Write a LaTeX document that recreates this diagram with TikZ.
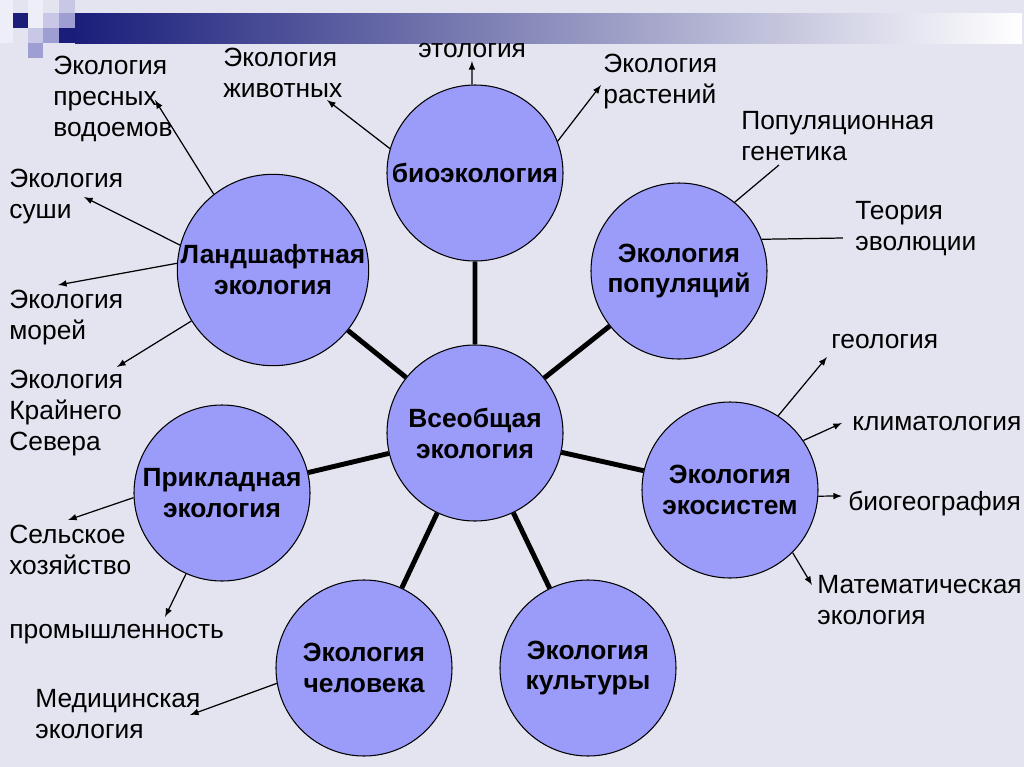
\documentclass[tikz,border=0pt]{standalone}
\usepackage{fontspec}
\setmainfont{Liberation Sans}
\usepackage{tikz}

\definecolor{fon}{RGB}{228,228,240}
\definecolor{krug}{RGB}{155,155,250}
\definecolor{sinij}{RGB}{26,30,122}
\definecolor{seryj}{RGB}{160,162,190}
\definecolor{kv1}{RGB}{238,238,248}
\definecolor{kv2}{RGB}{200,200,230}
\definecolor{kv3}{RGB}{158,158,210}

\begin{document}
\begin{tikzpicture}[scale=0.2]
\tikzstyle{every node}+=[inner sep=0pt]
\tikzstyle{krugi}=[circle, draw=black, line width=0.6pt, fill=krug, minimum size=3.52cm, align=center, font=\fontsize{15}{17.6}\selectfont\bfseries]
\tikzstyle{podpis}=[anchor=base west, align=left, font=\fontsize{15}{17.6}\selectfont]
\tikzstyle{luch}=[line width=2.8pt]
\tikzstyle{strelka}=[line width=0.7pt, -latex]
\tikzstyle{liniya}=[line width=0.7pt]
\useasboundingbox (0,0) rectangle (102.4,-76.7);
\fill [fon] (0,0) rectangle (102.4,-76.7);
\fill [kv1] (0,0) rectangle (1.3,-4.3);
\fill [sinij] (1.3,-1.3) rectangle (2.8,-2.8);
\fill [kv1] (2.8,0) rectangle (4.3,-2.8);
\fill [kv2] (2.8,-2.8) rectangle (4.3,-4.3);
\fill [kv3] (2.8,-4.3) rectangle (4.3,-5.8);
\fill [kv2] (4.3,-1.3) rectangle (5.9,-2.8);
\fill [kv3] (4.3,-2.8) rectangle (5.9,-4.3);
\fill [kv2] (5.9,0) rectangle (7.5,-1.3);
\fill [kv3] (5.9,-1.3) rectangle (7.5,-2.8);
\fill [sinij] (5.9,-2.8) rectangle (7.5,-4.3);
\shade [left color=sinij, middle color=seryj, right color=white] (7.5,-1.3) rectangle (102.2,-4.3);
\node [krugi] (all) at (47.5,-43.3) {Всеобщая\\экология};
\node [krugi] (bio) at (47.5,-17.3) {биоэкология};
\node [krugi] (popul) at (67.9,-27.1) {Экология\\популяций};
\node [krugi] (ecosys) at (73.0,-49.0) {Экология\\экосистем};
\node [krugi] (cult) at (58.8,-66.8) {Экология\\культуры};
\node [krugi] (human) at (36.4,-66.8) {Экология\\человека};
\node [krugi] (applied) at (22.2,-49.3) {Прикладная\\экология};
\node [krugi] (land) at (27.3,-27.0) {Ландшафтная\\экология};
\draw [luch] (all) -- (bio);
\draw [luch] (all) -- (popul);
\draw [luch] (all) -- (ecosys);
\draw [luch] (all) -- (cult);
\draw [luch] (all) -- (human);
\draw [luch] (all) -- (applied);
\draw [luch] (all) -- (land);
\node [podpis] (presn) at (5.3,-13.6) {Экология\\пресных\\водоемов};
\node [podpis] (zhiv) at (22.3,-9.7) {Экология\\животных};
\node [podpis] (etol) at (41.8,-5.7) {этология};
\node [podpis] (rast) at (60.3,-10.3) {Экология\\растений};
\node [podpis] (gen) at (74.1,-16.0) {Популяционная\\генетика};
\node [podpis] (evol) at (85.5,-25.0) {Теория\\эволюции};
\node [podpis] (geol) at (83.1,-34.8) {геология};
\node [podpis] (klim) at (85.2,-43.0) {климатология};
\node [podpis] (biogeo) at (84.8,-51.0) {биогеография};
\node [podpis] (mat) at (81.7,-62.4) {Математическая\\экология};
\node [podpis] (sushi) at (0.9,-21.8) {Экология\\суши};
\node [podpis] (morei) at (0.9,-33.9) {Экология\\морей};
\node [podpis] (sever) at (0.9,-45.0) {Экология\\Крайнего\\Севера};
\node [podpis] (selsk) at (0.9,-57.4) {Сельское\\хозяйство};
\node [podpis] (prom) at (0.9,-63.8) {промышленность};
\node [podpis] (med) at (3.5,-73.8) {Медицинская\\экология};
\coordinate (tpresn) at (15.5,-10.0);
\coordinate (tsushi) at (8.4,-19.7);
\coordinate (tmorei) at (5.8,-28.5);
\coordinate (tsever) at (11.7,-36.7);
\coordinate (tzhiv) at (32.7,-10.0);
\coordinate (tetol) at (47.2,-6.1);
\coordinate (trast) at (60.1,-8.5);
\coordinate (tgen) at (77.9,-16.5);
\coordinate (tevol) at (84.3,-23.8);
\coordinate (tgeol) at (82.7,-35.7);
\coordinate (tklim) at (84.2,-42.3);
\coordinate (tbiogeo) at (84.2,-49.6);
\coordinate (tmat) at (81.2,-58.5);
\coordinate (tselsk) at (6.8,-52.0);
\coordinate (tprom) at (16.5,-61.7);
\coordinate (tmed) at (19.0,-71.5);
\draw [strelka] (land.128) -- (tpresn);
\draw [strelka] (land.165) -- (tsushi);
\draw [strelka] (land.176) -- (tmorei);
\draw [strelka] (land.212) -- (tsever);
\draw [strelka] (bio.164) -- (tzhiv);
\draw [strelka] (bio.92) -- (tetol);
\draw [strelka] (bio.21) -- (trast);
\draw [liniya] (popul.51) -- (tgen);
\draw [liniya] (popul.21) -- (tevol);
\draw [strelka] (ecosys.57) -- (tgeol);
\draw [strelka] (ecosys.34) -- (tklim);
\draw [strelka] (ecosys.-4) -- (tbiogeo);
\draw [strelka] (ecosys.-45) -- (tmat);
\draw [strelka] (applied.183) -- (tselsk);
\draw [strelka] (applied.246) -- (tprom);
\draw [strelka] (human.190) -- (tmed);
\end{tikzpicture}
\end{document}
